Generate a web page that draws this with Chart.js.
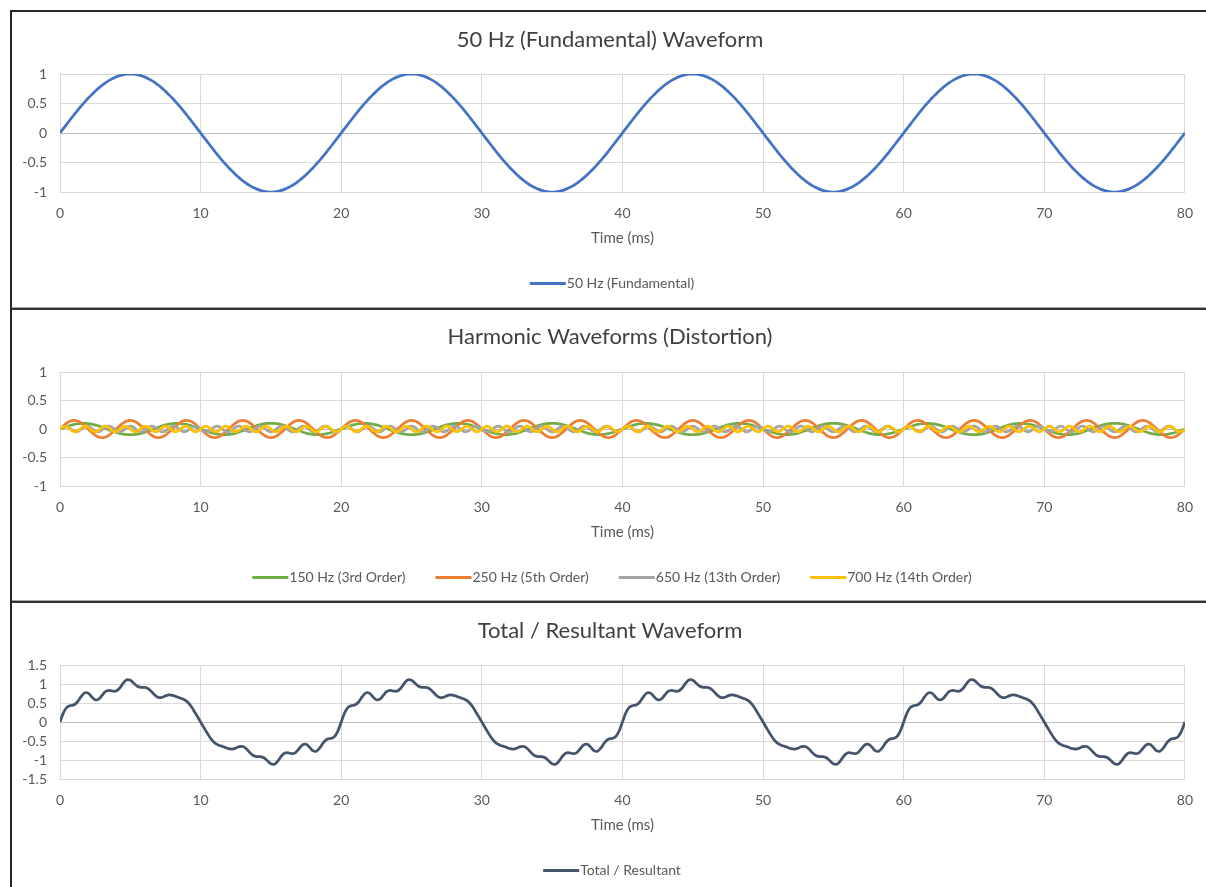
<!DOCTYPE html>
<html>
<head>
<meta charset="utf-8">
<script src="https://cdn.jsdelivr.net/npm/chart.js@4.4.1/dist/chart.umd.min.js"></script>
<style>
  html, body { margin: 0; padding: 0; background: #fff; }
  body { width: 1206px; height: 887px; position: relative; overflow: hidden; }
  .panel { position: absolute; left: 12px; width: 1194px; }
  .line { position: absolute; }
</style>
</head>
<body>
<div class="line" style="left:10px;top:10px;width:1196px;height:2px;background:#262626"></div>
<div class="line" style="left:10px;top:10px;width:2px;height:877px;background:#262626"></div>
<div class="line" style="left:12px;top:307px;width:1194px;height:1px;background:#a6a6a6"></div>
<div class="line" style="left:12px;top:308px;width:1194px;height:2px;background:#333"></div>
<div class="line" style="left:12px;top:600px;width:1194px;height:1px;background:#a6a6a6"></div>
<div class="line" style="left:12px;top:601px;width:1194px;height:2px;background:#333"></div>

<div class="panel" style="top:12px;height:295px"><canvas id="fundChart"></canvas></div>
<div class="panel" style="top:311px;height:289px"><canvas id="harmChart"></canvas></div>
<div class="panel" style="top:604px;height:283px"><canvas id="totalChart"></canvas></div>

<script>
// time axis, 0.25 ms steps
const timeMs = [
  0,.25,.5,.75,1,1.25,1.5,1.75,2,2.25,2.5,2.75,3,3.25,3.5,3.75,4,4.25,4.5,4.75,
  5,5.25,5.5,5.75,6,6.25,6.5,6.75,7,7.25,7.5,7.75,8,8.25,8.5,8.75,9,9.25,9.5,9.75,
  10,10.25,10.5,10.75,11,11.25,11.5,11.75,12,12.25,12.5,12.75,13,13.25,13.5,13.75,14,14.25,14.5,14.75,
  15,15.25,15.5,15.75,16,16.25,16.5,16.75,17,17.25,17.5,17.75,18,18.25,18.5,18.75,19,19.25,19.5,19.75,
  20,20.25,20.5,20.75,21,21.25,21.5,21.75,22,22.25,22.5,22.75,23,23.25,23.5,23.75,24,24.25,24.5,24.75,
  25,25.25,25.5,25.75,26,26.25,26.5,26.75,27,27.25,27.5,27.75,28,28.25,28.5,28.75,29,29.25,29.5,29.75,
  30,30.25,30.5,30.75,31,31.25,31.5,31.75,32,32.25,32.5,32.75,33,33.25,33.5,33.75,34,34.25,34.5,34.75,
  35,35.25,35.5,35.75,36,36.25,36.5,36.75,37,37.25,37.5,37.75,38,38.25,38.5,38.75,39,39.25,39.5,39.75,
  40,40.25,40.5,40.75,41,41.25,41.5,41.75,42,42.25,42.5,42.75,43,43.25,43.5,43.75,44,44.25,44.5,44.75,
  45,45.25,45.5,45.75,46,46.25,46.5,46.75,47,47.25,47.5,47.75,48,48.25,48.5,48.75,49,49.25,49.5,49.75,
  50,50.25,50.5,50.75,51,51.25,51.5,51.75,52,52.25,52.5,52.75,53,53.25,53.5,53.75,54,54.25,54.5,54.75,
  55,55.25,55.5,55.75,56,56.25,56.5,56.75,57,57.25,57.5,57.75,58,58.25,58.5,58.75,59,59.25,59.5,59.75,
  60,60.25,60.5,60.75,61,61.25,61.5,61.75,62,62.25,62.5,62.75,63,63.25,63.5,63.75,64,64.25,64.5,64.75,
  65,65.25,65.5,65.75,66,66.25,66.5,66.75,67,67.25,67.5,67.75,68,68.25,68.5,68.75,69,69.25,69.5,69.75,
  70,70.25,70.5,70.75,71,71.25,71.5,71.75,72,72.25,72.5,72.75,73,73.25,73.5,73.75,74,74.25,74.5,74.75,
  75,75.25,75.5,75.75,76,76.25,76.5,76.75,77,77.25,77.5,77.75,78,78.25,78.5,78.75,79,79.25,79.5,79.75,
  80
];

const xTicks = { min: 0, max: 80, step: 10 };

const fundamental50 = [
  0,.078,.156,.233,.309,.383,.454,.522,.588,.649,.707,.76,.809,.853,.891,.924,.951,.972,.988,.997,
  1,.997,.988,.972,.951,.924,.891,.853,.809,.76,.707,.649,.588,.522,.454,.383,.309,.233,.156,.078,
  0,-.078,-.156,-.233,-.309,-.383,-.454,-.522,-.588,-.649,-.707,-.76,-.809,-.853,-.891,-.924,-.951,-.972,-.988,-.997,
  -1,-.997,-.988,-.972,-.951,-.924,-.891,-.853,-.809,-.76,-.707,-.649,-.588,-.522,-.454,-.383,-.309,-.233,-.156,-.078,
  0,.078,.156,.233,.309,.383,.454,.522,.588,.649,.707,.76,.809,.853,.891,.924,.951,.972,.988,.997,
  1,.997,.988,.972,.951,.924,.891,.853,.809,.76,.707,.649,.588,.522,.454,.383,.309,.233,.156,.078,
  0,-.078,-.156,-.233,-.309,-.383,-.454,-.522,-.588,-.649,-.707,-.76,-.809,-.853,-.891,-.924,-.951,-.972,-.988,-.997,
  -1,-.997,-.988,-.972,-.951,-.924,-.891,-.853,-.809,-.76,-.707,-.649,-.588,-.522,-.454,-.383,-.309,-.233,-.156,-.078,
  0,.078,.156,.233,.309,.383,.454,.522,.588,.649,.707,.76,.809,.853,.891,.924,.951,.972,.988,.997,
  1,.997,.988,.972,.951,.924,.891,.853,.809,.76,.707,.649,.588,.522,.454,.383,.309,.233,.156,.078,
  0,-.078,-.156,-.233,-.309,-.383,-.454,-.522,-.588,-.649,-.707,-.76,-.809,-.853,-.891,-.924,-.951,-.972,-.988,-.997,
  -1,-.997,-.988,-.972,-.951,-.924,-.891,-.853,-.809,-.76,-.707,-.649,-.588,-.522,-.454,-.383,-.309,-.233,-.156,-.078,
  0,.078,.156,.233,.309,.383,.454,.522,.588,.649,.707,.76,.809,.853,.891,.924,.951,.972,.988,.997,
  1,.997,.988,.972,.951,.924,.891,.853,.809,.76,.707,.649,.588,.522,.454,.383,.309,.233,.156,.078,
  0,-.078,-.156,-.233,-.309,-.383,-.454,-.522,-.588,-.649,-.707,-.76,-.809,-.853,-.891,-.924,-.951,-.972,-.988,-.997,
  -1,-.997,-.988,-.972,-.951,-.924,-.891,-.853,-.809,-.76,-.707,-.649,-.588,-.522,-.454,-.383,-.309,-.233,-.156,-.078,
  0
];

const h3_150 = [
  0,.023,.045,.065,.081,.092,.099,.1,.095,.085,.071,.052,.031,.008,-.016,-.038,-.059,-.076,-.089,-.097,
  -.1,-.097,-.089,-.076,-.059,-.038,-.016,.008,.031,.052,.071,.085,.095,.1,.099,.092,.081,.065,.045,.023,
  0,-.023,-.045,-.065,-.081,-.092,-.099,-.1,-.095,-.085,-.071,-.052,-.031,-.008,.016,.038,.059,.076,.089,.097,
  .1,.097,.089,.076,.059,.038,.016,-.008,-.031,-.052,-.071,-.085,-.095,-.1,-.099,-.092,-.081,-.065,-.045,-.023,
  0,.023,.045,.065,.081,.092,.099,.1,.095,.085,.071,.052,.031,.008,-.016,-.038,-.059,-.076,-.089,-.097,
  -.1,-.097,-.089,-.076,-.059,-.038,-.016,.008,.031,.052,.071,.085,.095,.1,.099,.092,.081,.065,.045,.023,
  0,-.023,-.045,-.065,-.081,-.092,-.099,-.1,-.095,-.085,-.071,-.052,-.031,-.008,.016,.038,.059,.076,.089,.097,
  .1,.097,.089,.076,.059,.038,.016,-.008,-.031,-.052,-.071,-.085,-.095,-.1,-.099,-.092,-.081,-.065,-.045,-.023,
  0,.023,.045,.065,.081,.092,.099,.1,.095,.085,.071,.052,.031,.008,-.016,-.038,-.059,-.076,-.089,-.097,
  -.1,-.097,-.089,-.076,-.059,-.038,-.016,.008,.031,.052,.071,.085,.095,.1,.099,.092,.081,.065,.045,.023,
  0,-.023,-.045,-.065,-.081,-.092,-.099,-.1,-.095,-.085,-.071,-.052,-.031,-.008,.016,.038,.059,.076,.089,.097,
  .1,.097,.089,.076,.059,.038,.016,-.008,-.031,-.052,-.071,-.085,-.095,-.1,-.099,-.092,-.081,-.065,-.045,-.023,
  0,.023,.045,.065,.081,.092,.099,.1,.095,.085,.071,.052,.031,.008,-.016,-.038,-.059,-.076,-.089,-.097,
  -.1,-.097,-.089,-.076,-.059,-.038,-.016,.008,.031,.052,.071,.085,.095,.1,.099,.092,.081,.065,.045,.023,
  0,-.023,-.045,-.065,-.081,-.092,-.099,-.1,-.095,-.085,-.071,-.052,-.031,-.008,.016,.038,.059,.076,.089,.097,
  .1,.097,.089,.076,.059,.038,.016,-.008,-.031,-.052,-.071,-.085,-.095,-.1,-.099,-.092,-.081,-.065,-.045,-.023,
  0
];

const h5_250 = [
  0,.057,.106,.139,.15,.139,.106,.057,0,-.057,-.106,-.139,-.15,-.139,-.106,-.057,
  0,.057,.106,.139,.15,.139,.106,.057,0,-.057,-.106,-.139,-.15,-.139,-.106,-.057,
  0,.057,.106,.139,.15,.139,.106,.057,0,-.057,-.106,-.139,-.15,-.139,-.106,-.057,
  0,.057,.106,.139,.15,.139,.106,.057,0,-.057,-.106,-.139,-.15,-.139,-.106,-.057,
  0,.057,.106,.139,.15,.139,.106,.057,0,-.057,-.106,-.139,-.15,-.139,-.106,-.057,
  0,.057,.106,.139,.15,.139,.106,.057,0,-.057,-.106,-.139,-.15,-.139,-.106,-.057,
  0,.057,.106,.139,.15,.139,.106,.057,0,-.057,-.106,-.139,-.15,-.139,-.106,-.057,
  0,.057,.106,.139,.15,.139,.106,.057,0,-.057,-.106,-.139,-.15,-.139,-.106,-.057,
  0,.057,.106,.139,.15,.139,.106,.057,0,-.057,-.106,-.139,-.15,-.139,-.106,-.057,
  0,.057,.106,.139,.15,.139,.106,.057,0,-.057,-.106,-.139,-.15,-.139,-.106,-.057,
  0,.057,.106,.139,.15,.139,.106,.057,0,-.057,-.106,-.139,-.15,-.139,-.106,-.057,
  0,.057,.106,.139,.15,.139,.106,.057,0,-.057,-.106,-.139,-.15,-.139,-.106,-.057,
  0,.057,.106,.139,.15,.139,.106,.057,0,-.057,-.106,-.139,-.15,-.139,-.106,-.057,
  0,.057,.106,.139,.15,.139,.106,.057,0,-.057,-.106,-.139,-.15,-.139,-.106,-.057,
  0,.057,.106,.139,.15,.139,.106,.057,0,-.057,-.106,-.139,-.15,-.139,-.106,-.057,
  0,.057,.106,.139,.15,.139,.106,.057,0,-.057,-.106,-.139,-.15,-.139,-.106,-.057,
  0,.057,.106,.139,.15,.139,.106,.057,0,-.057,-.106,-.139,-.15,-.139,-.106,-.057,
  0,.057,.106,.139,.15,.139,.106,.057,0,-.057,-.106,-.139,-.15,-.139,-.106,-.057,
  0,.057,.106,.139,.15,.139,.106,.057,0,-.057,-.106,-.139,-.15,-.139,-.106,-.057,
  0,.057,.106,.139,.15,.139,.106,.057,0,-.057,-.106,-.139,-.15,-.139,-.106,-.057,
  0
];

const h13_650 = [
  0,.043,.045,.004,-.04,-.046,-.008,.038,.048,.012,-.035,-.049,-.015,.032,.049,.019,-.029,-.05,-.023,.026,
  .05,.026,-.023,-.05,-.029,.019,.049,.032,-.015,-.049,-.035,.012,.048,.038,-.008,-.046,-.04,.004,.045,.043,
  0,-.043,-.045,-.004,.04,.046,.008,-.038,-.048,-.012,.035,.049,.015,-.032,-.049,-.019,.029,.05,.023,-.026,
  -.05,-.026,.023,.05,.029,-.019,-.049,-.032,.015,.049,.035,-.012,-.048,-.038,.008,.046,.04,-.004,-.045,-.043,
  0,.043,.045,.004,-.04,-.046,-.008,.038,.048,.012,-.035,-.049,-.015,.032,.049,.019,-.029,-.05,-.023,.026,
  .05,.026,-.023,-.05,-.029,.019,.049,.032,-.015,-.049,-.035,.012,.048,.038,-.008,-.046,-.04,.004,.045,.043,
  0,-.043,-.045,-.004,.04,.046,.008,-.038,-.048,-.012,.035,.049,.015,-.032,-.049,-.019,.029,.05,.023,-.026,
  -.05,-.026,.023,.05,.029,-.019,-.049,-.032,.015,.049,.035,-.012,-.048,-.038,.008,.046,.04,-.004,-.045,-.043,
  0,.043,.045,.004,-.04,-.046,-.008,.038,.048,.012,-.035,-.049,-.015,.032,.049,.019,-.029,-.05,-.023,.026,
  .05,.026,-.023,-.05,-.029,.019,.049,.032,-.015,-.049,-.035,.012,.048,.038,-.008,-.046,-.04,.004,.045,.043,
  0,-.043,-.045,-.004,.04,.046,.008,-.038,-.048,-.012,.035,.049,.015,-.032,-.049,-.019,.029,.05,.023,-.026,
  -.05,-.026,.023,.05,.029,-.019,-.049,-.032,.015,.049,.035,-.012,-.048,-.038,.008,.046,.04,-.004,-.045,-.043,
  0,.043,.045,.004,-.04,-.046,-.008,.038,.048,.012,-.035,-.049,-.015,.032,.049,.019,-.029,-.05,-.023,.026,
  .05,.026,-.023,-.05,-.029,.019,.049,.032,-.015,-.049,-.035,.012,.048,.038,-.008,-.046,-.04,.004,.045,.043,
  0,-.043,-.045,-.004,.04,.046,.008,-.038,-.048,-.012,.035,.049,.015,-.032,-.049,-.019,.029,.05,.023,-.026,
  -.05,-.026,.023,.05,.029,-.019,-.049,-.032,.015,.049,.035,-.012,-.048,-.038,.008,.046,.04,-.004,-.045,-.043,
  0
];

const h14_700 = [
  0,.045,.04,-.008,-.048,-.035,.015,.049,.029,-.023,-.05,-.023,.029,.049,.015,-.035,-.048,-.008,.04,.045,
  0,-.045,-.04,.008,.048,.035,-.015,-.049,-.029,.023,.05,.023,-.029,-.049,-.015,.035,.048,.008,-.04,-.045,
  0,.045,.04,-.008,-.048,-.035,.015,.049,.029,-.023,-.05,-.023,.029,.049,.015,-.035,-.048,-.008,.04,.045,
  0,-.045,-.04,.008,.048,.035,-.015,-.049,-.029,.023,.05,.023,-.029,-.049,-.015,.035,.048,.008,-.04,-.045,
  0,.045,.04,-.008,-.048,-.035,.015,.049,.029,-.023,-.05,-.023,.029,.049,.015,-.035,-.048,-.008,.04,.045,
  0,-.045,-.04,.008,.048,.035,-.015,-.049,-.029,.023,.05,.023,-.029,-.049,-.015,.035,.048,.008,-.04,-.045,
  0,.045,.04,-.008,-.048,-.035,.015,.049,.029,-.023,-.05,-.023,.029,.049,.015,-.035,-.048,-.008,.04,.045,
  0,-.045,-.04,.008,.048,.035,-.015,-.049,-.029,.023,.05,.023,-.029,-.049,-.015,.035,.048,.008,-.04,-.045,
  0,.045,.04,-.008,-.048,-.035,.015,.049,.029,-.023,-.05,-.023,.029,.049,.015,-.035,-.048,-.008,.04,.045,
  0,-.045,-.04,.008,.048,.035,-.015,-.049,-.029,.023,.05,.023,-.029,-.049,-.015,.035,.048,.008,-.04,-.045,
  0,.045,.04,-.008,-.048,-.035,.015,.049,.029,-.023,-.05,-.023,.029,.049,.015,-.035,-.048,-.008,.04,.045,
  0,-.045,-.04,.008,.048,.035,-.015,-.049,-.029,.023,.05,.023,-.029,-.049,-.015,.035,.048,.008,-.04,-.045,
  0,.045,.04,-.008,-.048,-.035,.015,.049,.029,-.023,-.05,-.023,.029,.049,.015,-.035,-.048,-.008,.04,.045,
  0,-.045,-.04,.008,.048,.035,-.015,-.049,-.029,.023,.05,.023,-.029,-.049,-.015,.035,.048,.008,-.04,-.045,
  0,.045,.04,-.008,-.048,-.035,.015,.049,.029,-.023,-.05,-.023,.029,.049,.015,-.035,-.048,-.008,.04,.045,
  0,-.045,-.04,.008,.048,.035,-.015,-.049,-.029,.023,.05,.023,-.029,-.049,-.015,.035,.048,.008,-.04,-.045,
  0
];

const totalWave = [
  0,.246,.392,.433,.452,.533,.666,.766,.76,.666,.587,.601,.704,.803,.833,.813,.815,.895,1.022,1.11,
  1.1,1.02,.942,.911,.911,.883,.803,.705,.646,.647,.687,.712,.702,.668,.636,.603,.548,.449,.312,.156,
  0,-.156,-.312,-.449,-.548,-.603,-.636,-.668,-.702,-.712,-.687,-.647,-.646,-.705,-.803,-.883,-.911,-.911,-.942,-1.02,
  -1.1,-1.11,-1.022,-.895,-.815,-.813,-.833,-.803,-.704,-.601,-.587,-.666,-.76,-.766,-.666,-.533,-.452,-.433,-.392,-.246,
  0,.246,.392,.433,.452,.533,.666,.766,.76,.666,.587,.601,.704,.803,.833,.813,.815,.895,1.022,1.11,
  1.1,1.02,.942,.911,.911,.883,.803,.705,.646,.647,.687,.712,.702,.668,.636,.603,.548,.449,.312,.156,
  0,-.156,-.312,-.449,-.548,-.603,-.636,-.668,-.702,-.712,-.687,-.647,-.646,-.705,-.803,-.883,-.911,-.911,-.942,-1.02,
  -1.1,-1.11,-1.022,-.895,-.815,-.813,-.833,-.803,-.704,-.601,-.587,-.666,-.76,-.766,-.666,-.533,-.452,-.433,-.392,-.246,
  0,.246,.392,.433,.452,.533,.666,.766,.76,.666,.587,.601,.704,.803,.833,.813,.815,.895,1.022,1.11,
  1.1,1.02,.942,.911,.911,.883,.803,.705,.646,.647,.687,.712,.702,.668,.636,.603,.548,.449,.312,.156,
  0,-.156,-.312,-.449,-.548,-.603,-.636,-.668,-.702,-.712,-.687,-.647,-.646,-.705,-.803,-.883,-.911,-.911,-.942,-1.02,
  -1.1,-1.11,-1.022,-.895,-.815,-.813,-.833,-.803,-.704,-.601,-.587,-.666,-.76,-.766,-.666,-.533,-.452,-.433,-.392,-.246,
  0,.246,.392,.433,.452,.533,.666,.766,.76,.666,.587,.601,.704,.803,.833,.813,.815,.895,1.022,1.11,
  1.1,1.02,.942,.911,.911,.883,.803,.705,.646,.647,.687,.712,.702,.668,.636,.603,.548,.449,.312,.156,
  0,-.156,-.312,-.449,-.548,-.603,-.636,-.668,-.702,-.712,-.687,-.647,-.646,-.705,-.803,-.883,-.911,-.911,-.942,-1.02,
  -1.1,-1.11,-1.022,-.895,-.815,-.813,-.833,-.803,-.704,-.601,-.587,-.666,-.76,-.766,-.666,-.533,-.452,-.433,-.392,-.246,
  0
];

Chart.defaults.font.family = "Lato, 'Open Sans', sans-serif";
Chart.defaults.color = "#595959";

// legend marker: a short thick line that runs right up to the label text
function legendLine(color) {
  const c = document.createElement("canvas");
  c.width = 44;
  c.height = 3;
  const g = c.getContext("2d");
  g.fillStyle = color;
  g.fillRect(7, 0, 36, 3);
  return c;
}

function series(label, data, color, order) {
  return { label, data, borderColor: color, backgroundColor: color, pointStyle: legendLine(color), order };
}

// title and legend sit centred on the whole panel, not on the area left of the right padding
const centreBoxes = {
  id: "centreBoxes",
  afterLayout(chart) {
    if (chart.titleBlock) chart.titleBlock.left += 20;
    if (chart.legend) chart.legend.left += 24;
  }
};

function makeChart(id, cfg) {
  return new Chart(document.getElementById(id), {
    type: "line",
    data: { labels: timeMs, datasets: cfg.datasets },
    plugins: [centreBoxes],
    options: {
      responsive: true,
      maintainAspectRatio: false,
      animation: false,
      layout: { padding: { left: 0, right: 18, top: 0, bottom: cfg.padBottom } },
      elements: {
        point: { radius: 0 },
        line: { borderWidth: 2.75, tension: 0.4, fill: false }
      },
      plugins: {
        title: {
          display: true,
          text: cfg.title,
          color: "#404040",
          font: { size: 22, weight: "normal", lineHeight: "26px" },
          padding: { top: cfg.titleTop, bottom: cfg.titleBottom }
        },
        legend: {
          position: "bottom",
          labels: {
            usePointStyle: true,
            pointStyleWidth: 30,
            padding: 30,
            color: "#595959",
            font: { size: 14 },
            sort: (a, b) => a.datasetIndex - b.datasetIndex
          }
        },
        tooltip: { enabled: false }
      },
      scales: {
        x: {
          type: "linear",
          min: xTicks.min,
          max: xTicks.max,
          ticks: { stepSize: xTicks.step, padding: 13, font: { size: 14 } },
          grid: { color: "#d9d9d9", drawTicks: false },
          border: { color: "#d9d9d9" },
          title: { display: true, text: "Time (ms)", font: { size: 15 }, padding: { top: 0, bottom: -1 } },
          afterFit: s => { s.height = 54; }
        },
        y: {
          min: cfg.yMin,
          max: cfg.yMax,
          ticks: {
            stepSize: 0.5,
            padding: 13,
            autoSkip: false,
            font: { size: 14 },
            callback: v => String(v)
          },
          grid: {
            color: c => (c.tick && c.tick.value === 0 ? "#bfbfbf" : "#d9d9d9"),
            drawTicks: false
          },
          border: { color: "#d9d9d9" },
          afterFit: s => { s.width = 48; }
        }
      }
    }
  });
}

makeChart("fundChart", {
  title: "50 Hz (Fundamental) Waveform",
  titleTop: 15, titleBottom: 21, padBottom: 7,
  yMin: -1, yMax: 1,
  datasets: [series("50 Hz (Fundamental)", fundamental50, "#4472C4", 0)]
});

makeChart("harmChart", {
  title: "Harmonic Waveforms (Distortion)",
  titleTop: 13, titleBottom: 22, padBottom: 6,
  yMin: -1, yMax: 1,
  datasets: [
    series("150 Hz (3rd Order)", h3_150, "#70AD47", 4),
    series("250 Hz (5th Order)", h5_250, "#ED7D31", 3),
    series("650 Hz (13th Order)", h13_650, "#A5A5A5", 2),
    series("700 Hz (14th Order)", h14_700, "#FFC000", 1)
  ]
});

makeChart("totalChart", {
  title: "Total / Resultant Waveform",
  titleTop: 14, titleBottom: 21, padBottom: 0,
  yMin: -1.5, yMax: 1.5,
  datasets: [series("Total / Resultant", totalWave, "#44546A", 0)]
});
</script>
</body>
</html>
